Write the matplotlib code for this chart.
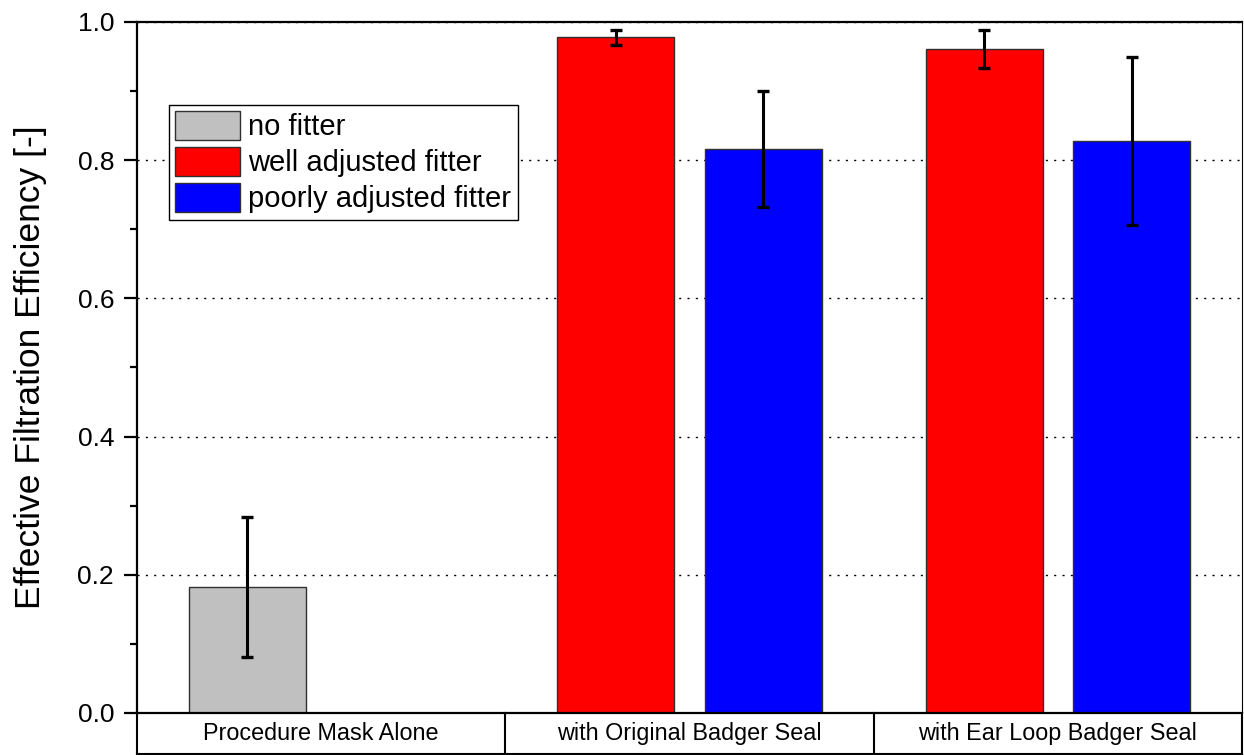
import numpy as np
import matplotlib
matplotlib.use('Agg')
from matplotlib import pyplot as plt
from matplotlib.ticker import MultipleLocator

plt.rcParams['font.family'] = ['Liberation Sans', 'DejaVu Sans']

categories = ['Procedure Mask Alone', 'with Original Badger Seal', 'with Ear Loop Badger Seal']
series = ['no fitter', 'well adjusted fitter', 'poorly adjusted fitter']

no_fitter = [0.182, np.nan, np.nan]
no_fitter_err = [0.101, np.nan, np.nan]
well_adj = [np.nan, 0.978, 0.961]
well_adj_err = [np.nan, 0.011, 0.027]
poor_adj = [np.nan, 0.816, 0.828]
poor_adj_err = [np.nan, 0.084, 0.122]

colors = ['#C0C0C0', '#FF0000', '#0000FF']
offsets = [-0.2, -0.2, 0.2]
width = 0.318

fig = plt.figure(figsize=(12.44, 7.55), dpi=100)
ax = fig.add_axes([137/1244, 42/755, 1105/1244, 691/755])

x = np.arange(len(categories))
for vals, errs, col, off, name in zip([no_fitter, well_adj, poor_adj],
                                      [no_fitter_err, well_adj_err, poor_adj_err],
                                      colors, offsets, series):
    ax.bar(x + off, vals, width, color=col, edgecolor='#303030', linewidth=1,
           label=name, zorder=2)
    ax.errorbar(x + off, vals, yerr=errs, fmt='none', ecolor='black',
                elinewidth=2.2, capsize=4.2, capthick=2.4, zorder=3)

ax.set_xlim(-0.5, len(categories) - 0.5)
ax.set_ylim(0, 1.0)
ax.yaxis.set_major_locator(MultipleLocator(0.2))
ax.yaxis.set_minor_locator(MultipleLocator(0.1))
ax.yaxis.set_major_formatter(matplotlib.ticker.FormatStrFormatter('%.1f'))
ax.grid(axis='y', which='major', color='black', linestyle=(0, (1.5, 4.5)), linewidth=1, zorder=0)
ax.set_axisbelow(True)

ax.tick_params(axis='y', which='major', length=9.5, width=1.6, pad=7, labelsize=19)
ax.tick_params(axis='y', which='minor', length=5, width=1.6)
ax.set_xticks(x)
ax.set_xticklabels(categories, fontsize=16.8)
ax.tick_params(axis='x', length=0, pad=6.5)

for side in ['left', 'top', 'bottom']:
    ax.spines[side].set_linewidth(1.6)
ax.spines['right'].set_linewidth(0.8)

# category boxes under the axis
xt = ax.get_xaxis_transform()
box_y = -41/691
for b in np.arange(len(categories) + 1) - 0.5:
    ax.plot([b, b], [0, box_y], color='black', lw=1.5, transform=xt, clip_on=False)
ax.plot([-0.5, len(categories) - 0.5], [box_y, box_y], color='black', lw=1.5,
        transform=xt, clip_on=False)

ax.set_ylabel('Effective Filtration Efficiency [-]', fontsize=25.5)
ax.yaxis.set_label_coords(-0.081, 0.5)

leg = ax.legend(loc='upper left', bbox_to_anchor=(0.029, 0.880), fontsize=21,
                fancybox=False, framealpha=1, edgecolor='black',
                handlelength=2.2, handleheight=1.12, labelspacing=0.2,
                handletextpad=0.3, borderpad=0.22, borderaxespad=0)
leg.get_frame().set_linewidth(1)

fig.savefig('out.png', dpi=100)
